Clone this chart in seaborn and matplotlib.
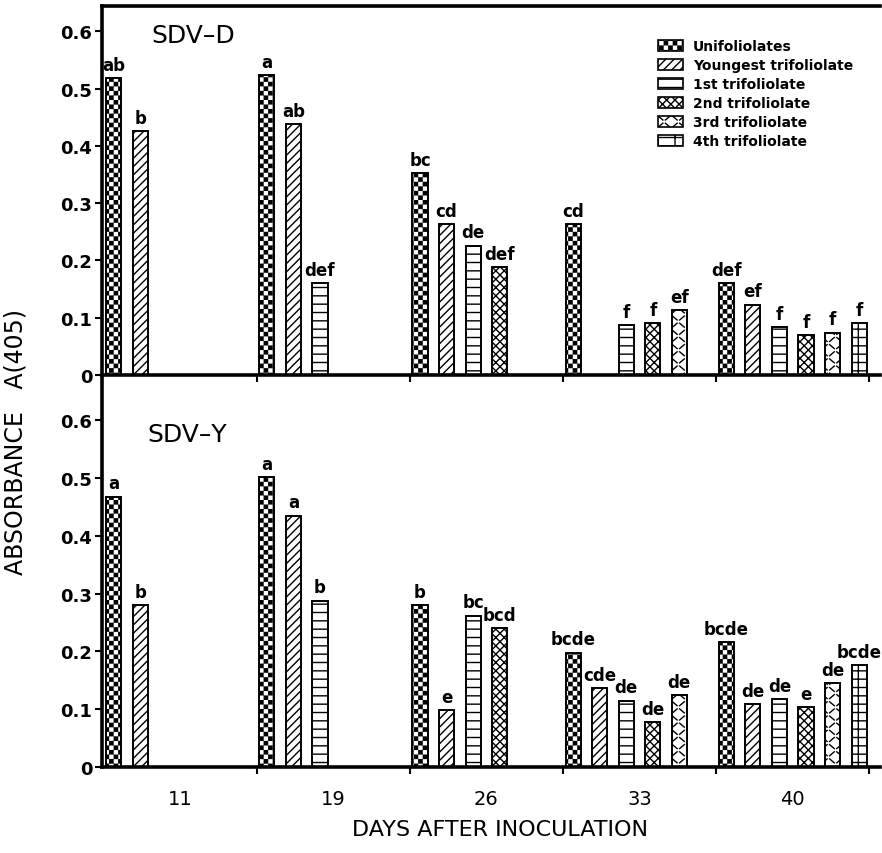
import numpy as np
import pandas as pd
import matplotlib
matplotlib.use('Agg')
import matplotlib.pyplot as plt
import matplotlib.hatch as mhatch
from matplotlib.path import Path
from matplotlib.patches import Patch
import seaborn as sns

# ---------------- data ----------------
days = ['11', '19', '26', '33', '40']
leaves = ['Unifoliolates', 'Youngest trifoliolate', '1st trifoliolate',
          '2nd trifoliolate', '3rd trifoliolate', '4th trifoliolate']

# SDV-D (top panel); None = no bar
d_unif = [0.518, 0.524, 0.353, 0.263, 0.160]
d_young = [0.426, 0.438, 0.263, None, 0.123]
d_first = [None, 0.160, 0.226, 0.087, 0.083]
d_second = [None, None, 0.189, 0.091, 0.069]
d_third = [None, None, None, 0.114, 0.074]
d_fourth = [None, None, None, None, 0.090]

d_unif_lab = ['ab', 'a', 'bc', 'cd', 'def']
d_young_lab = ['b', 'ab', 'cd', None, 'ef']
d_first_lab = [None, 'def', 'de', 'f', 'f']
d_second_lab = [None, None, 'def', 'f', 'f']
d_third_lab = [None, None, None, 'ef', 'f']
d_fourth_lab = [None, None, None, None, 'f']

# SDV-Y (bottom panel)
y_unif = [0.468, 0.502, 0.280, 0.198, 0.216]
y_young = [0.280, 0.435, 0.099, 0.137, 0.109]
y_first = [None, 0.288, 0.262, 0.115, 0.118]
y_second = [None, None, 0.240, 0.078, 0.103]
y_third = [None, None, None, 0.125, 0.145]
y_fourth = [None, None, None, None, 0.177]

y_unif_lab = ['a', 'a', 'b', 'bcde', 'bcde']
y_young_lab = ['b', 'a', 'e', 'cde', 'de']
y_first_lab = [None, 'b', 'bc', 'de', 'de']
y_second_lab = [None, None, 'bcd', 'de', 'e']
y_third_lab = [None, None, None, 'de', 'de']
y_fourth_lab = [None, None, None, None, 'bcde']

ytick_vals = [0, 0.1, 0.2, 0.3, 0.4, 0.5, 0.6]
ytick_labels = ['0', '0.1', '0.2', '0.3', '0.4', '0.5', '0.6']


# ---------------- custom hatches ----------------
class CheckerHatch(mhatch.HatchPatternBase):
    """checkerboard, used for '*'"""
    def __init__(self, hatch, density):
        self.n = hatch.count('*') * 11
        self.num_vertices = self.n * self.n * 2 * 5

    def set_vertices_and_codes(self, vertices, codes):
        n = self.n
        if n == 0:
            return
        c = 1.0 / (2 * n)
        s = c * 0.72
        verts = []
        for i in range(n):
            for j in range(n):
                for dx, dy in ((0, 0), (c, c)):
                    x0 = i / n + dx + (c - s) / 2
                    y0 = j / n + dy + (c - s) / 2
                    verts += [(x0, y0), (x0 + s, y0), (x0 + s, y0 + s),
                              (x0, y0 + s), (x0, y0)]
        vertices[:] = np.array(verts)
        codes[:] = [Path.MOVETO, Path.LINETO, Path.LINETO, Path.LINETO,
                    Path.CLOSEPOLY] * (n * n * 2)


class ZigzagHatch(mhatch.HatchPatternBase):
    """short alternating dashes, used for 'O'"""
    def __init__(self, hatch, density):
        self.n = hatch.count('O') * 14
        self.num_vertices = self.n * self.n * 2

    def set_vertices_and_codes(self, vertices, codes):
        n = self.n
        if n == 0:
            return
        d = 1.0 / n
        verts = []
        for j in range(n):
            for i in range(n):
                x0, y0 = i * d, j * d
                if (i + j) % 2 == 0:
                    verts += [(x0 + 0.15 * d, y0 + 0.2 * d), (x0 + 0.8 * d, y0 + 0.75 * d)]
                else:
                    verts += [(x0 + 0.15 * d, y0 + 0.75 * d), (x0 + 0.8 * d, y0 + 0.2 * d)]
        vertices[:] = np.array(verts)
        codes[:] = [Path.MOVETO, Path.LINETO] * (n * n)


mhatch._hatch_types = [CheckerHatch if t is mhatch.Stars else
                       (ZigzagHatch if t is mhatch.LargeCircles else t)
                       for t in mhatch._hatch_types]

hatches = {'Unifoliolates': '*', 'Youngest trifoliolate': '////',
           '1st trifoliolate': '--', '2nd trifoliolate': 'xxxx',
           '3rd trifoliolate': 'O', '4th trifoliolate': '--|'}


def build_df(series, labels):
    rows = []
    for leaf, vals, labs in zip(leaves, series, labels):
        for day, v, l in zip(days, vals, labs):
            if v is not None:
                rows.append({'day': day, 'leaf': leaf, 'value': v, 'letter': l})
    return pd.DataFrame(rows)


df_d = build_df([d_unif, d_young, d_first, d_second, d_third, d_fourth],
                [d_unif_lab, d_young_lab, d_first_lab, d_second_lab, d_third_lab, d_fourth_lab])
df_y = build_df([y_unif, y_young, y_first, y_second, y_third, y_fourth],
                [y_unif_lab, y_young_lab, y_first_lab, y_second_lab, y_third_lab, y_fourth_lab])

# ---------------- figure ----------------
sns.set_style('ticks')
plt.rcParams['font.family'] = ['DejaVu Sans']
plt.rcParams['hatch.color'] = 'black'
plt.rcParams['hatch.linewidth'] = 1.0
for k in ('text.color', 'axes.labelcolor', 'xtick.color', 'ytick.color', 'axes.edgecolor'):
    plt.rcParams[k] = 'black'

W, H = 882, 854
fig = plt.figure(figsize=(W / 100, H / 100), dpi=100)


def px_axes(l, t, r, b):
    return fig.add_axes([l / W, 1 - b / H, (r - l) / W, (b - t) / H])


ax_top = px_axes(102, 7, 880, 376)
ax_bot = px_axes(102, 378, 880, 768)

WIDTH = 1.04
slot = WIDTH / len(leaves)

for ax, df, ytop, title, tpos in [
        (ax_top, df_d, 0.644, 'SDV–D', (0.064, 0.921)),
        (ax_bot, df_y, 0.675, 'SDV–Y', (0.058, 0.854))]:
    sns.barplot(data=df, x='day', y='value', hue='leaf', order=days,
                hue_order=leaves, palette={l: 'white' for l in leaves},
                saturation=1, edgecolor='black', linewidth=1.4,
                width=WIDTH, gap=0.43, errorbar=None, legend=False, ax=ax)
    lookup = {(r.day, r.leaf): r.letter for r in df.itertuples()}
    for cont in ax.containers:
        for p in cont.patches:
            h = p.get_height()
            if not np.isfinite(h) or h <= 0:
                continue
            cx = p.get_x() + p.get_width() / 2
            i = int(round(cx))
            j = int(round((cx - i) / slot + 2.5))
            leaf = leaves[j]
            p.set_hatch(hatches[leaf])
            p.set_edgecolor('black')
            lab = lookup.get((days[i], leaf))
            if lab:
                ax.annotate(lab, (cx, h), xytext=(0, 3), textcoords='offset points',
                            ha='center', va='bottom', fontsize=12, fontweight='bold')
    ax.set_xlim(-0.51, 4.57)
    ax.set_ylim(0, ytop)
    ax.set_xlabel('')
    ax.set_ylabel('')
    ax.set_yticks(ytick_vals)
    ax.set_yticklabels(ytick_labels)
    for t in ax.get_yticklabels():
        t.set_fontweight('bold')
    ax.tick_params(axis='y', direction='out', length=5, width=1.5, labelsize=13, pad=2)
    ax.set_xticks(range(len(days)))
    ax.set_xticks([0.5, 1.5, 2.5, 3.5, 4.5], minor=True)
    ax.tick_params(axis='x', which='major', length=0, labelsize=14, pad=16)
    ax.tick_params(axis='x', which='minor', length=5, width=1.5, direction='out')
    ax.spines['right'].set_visible(False)
    for s in ('left', 'bottom', 'top'):
        ax.spines[s].set_linewidth(2.6)
    ax.text(tpos[0], tpos[1], title, transform=ax.transAxes, fontsize=18,
            ha='left', va='center')
    ax.patch.set_alpha(0)

ax_top.tick_params(axis='x', which='major', labelbottom=False)
ax_bot.spines['top'].set_visible(False)
ax_bot.set_xticklabels(days)

# legend
handles = [Patch(facecolor='white', edgecolor='black', linewidth=1.2,
                 hatch=hatches[l], label=l) for l in leaves]
ax_top.legend(handles=handles, loc='upper left', bbox_to_anchor=(0.715, 0.91),
              frameon=False, prop={'weight': 'bold', 'size': 10},
              handlelength=1.8, handleheight=0.85, labelspacing=0.36,
              handletextpad=0.7, borderpad=0, borderaxespad=0)

fig.text(500 / W, 1 - 830 / H, 'DAYS AFTER INOCULATION', ha='center',
         va='center', fontsize=16)
fig.text(16 / W, 1 - 442 / H, 'ABSORBANCE   A(405)', ha='center', va='center',
         rotation=90, fontsize=17)

fig.savefig('out.png', dpi=100)
